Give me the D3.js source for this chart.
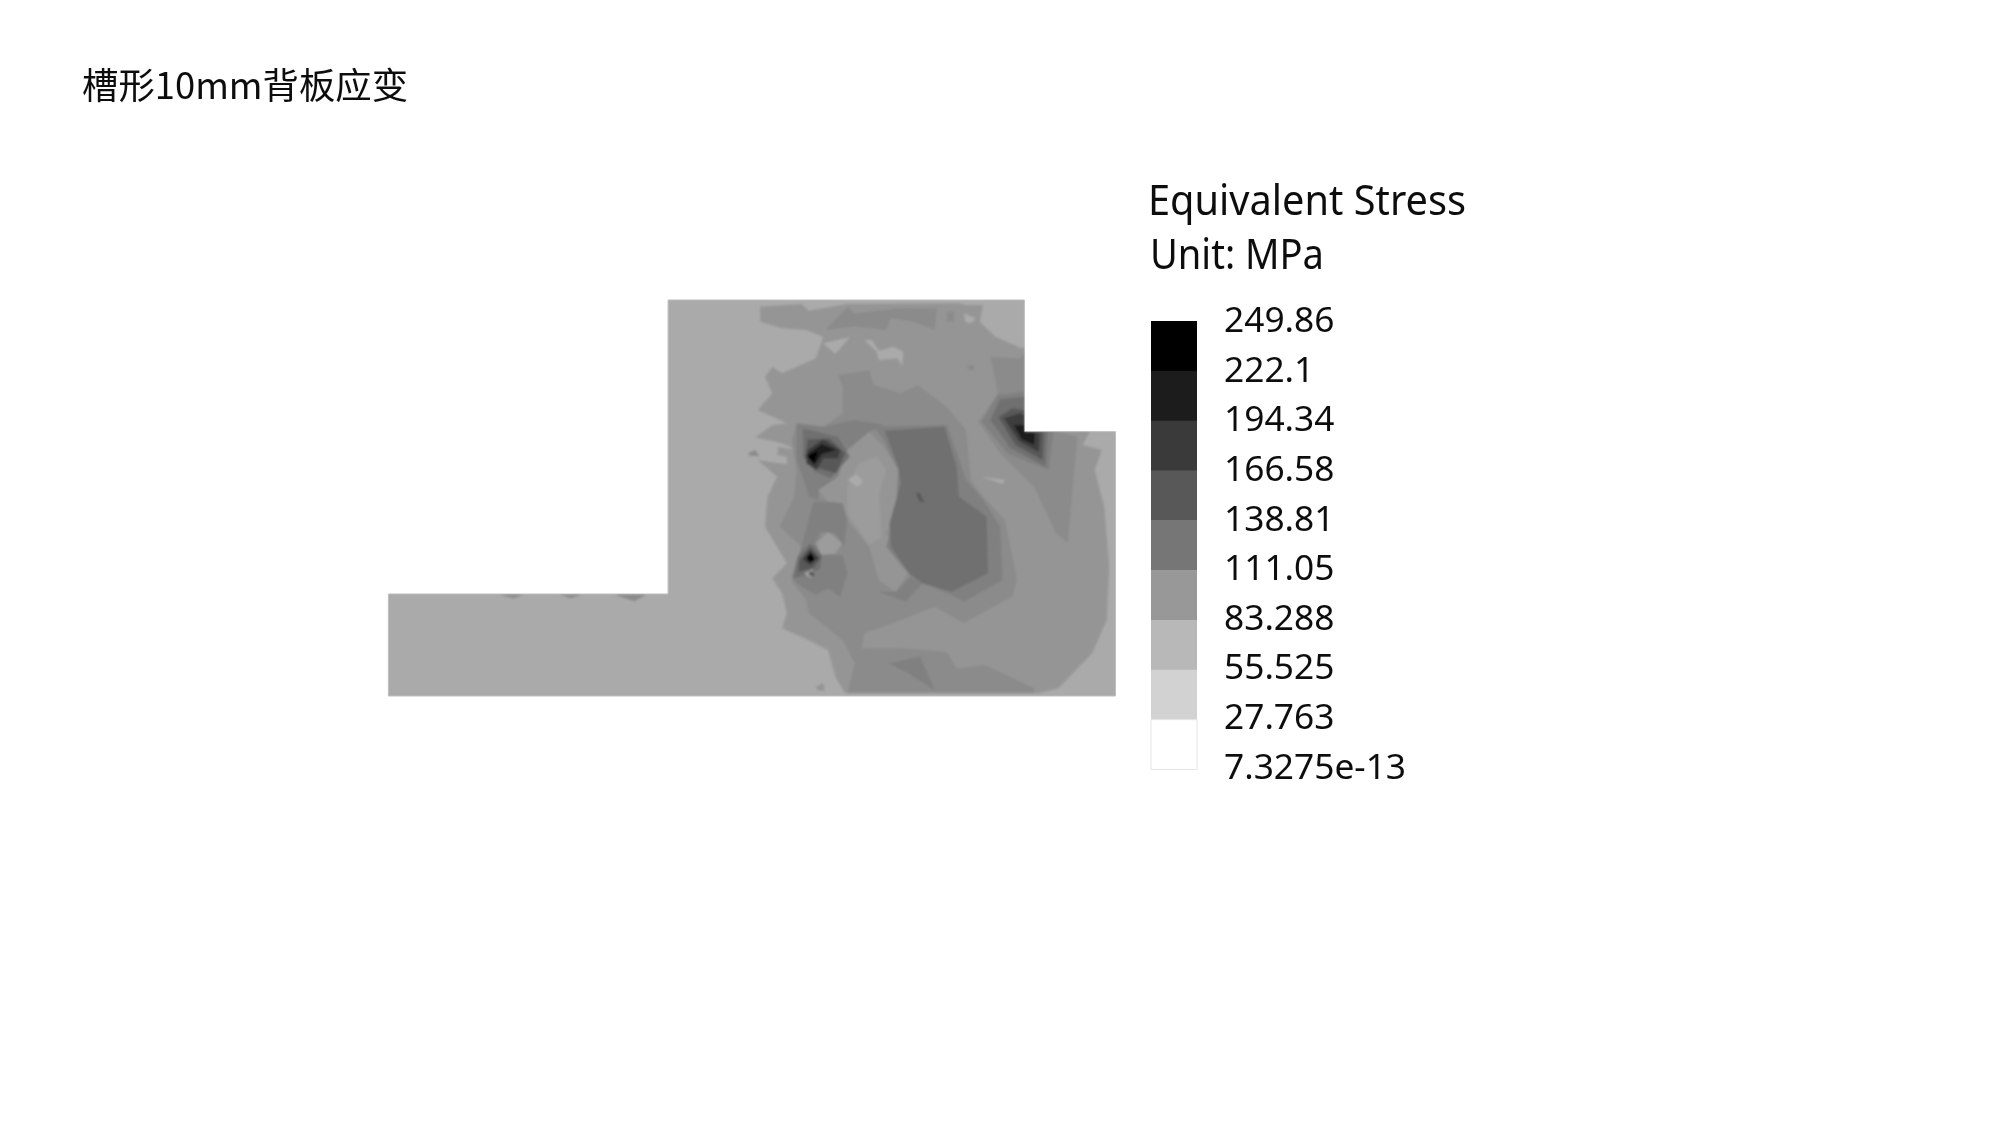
<!DOCTYPE html>
<html><head><meta charset="utf-8">
<script src="https://cdnjs.cloudflare.com/ajax/libs/d3/7.8.5/d3.min.js"></script>
<style>html,body{margin:0;background:#fff}svg{display:block}</style></head>
<body><svg id="c" width="2000" height="1125"></svg>
<script>
const chartTitle = "槽形10mm背板应变";
const legendTitle = ["Equivalent Stress", "Unit: MPa"];
const legendLabels = ["249.86","222.1","194.34","166.58","138.81","111.05","83.288","55.525","27.763","7.3275e-13"];
const legendColors = ["#000000","#1c1c1c","#3a3a3a","#585858","#767676","#989898","#b8b8b8","#d2d2d2","#ffffff"];
// plate contour bands, darkest = highest stress; band index 0 = plate base, 9 = pale interior band
const bandColors = ["#aaaaaa","#959595","#8b8b8b","#808080","#707070","#585858","#3c3c3c","#1e1e1e","#000000","#9c9c9c"];
const plateOutline = [[38,942],[615,942],[615,60],[1350,60],[1350,455],[1538,455],[1538,1248],[38,1248]];
// [band, outline] in model units, painted in order
const contours = [
 [1,[[805,80],[890,72],[905,92],[985,72],[1215,70],[1230,75],[1265,75],[1258,125],[1290,170],[1345,205],[1350,200],[1350,455],[1485,455],[1470,495],[1510,510],[1495,570],[1515,680],[1525,860],[1520,1020],[1490,1120],[1420,1225],[1380,1240],[980,1240],[960,1190],[945,1110],[890,1070],[850,1045],[860,1000],[850,940],[830,895],[860,850],[815,740],[820,650],[840,590],[800,540],[835,548],[860,552],[860,530],[840,525],[842,500],[880,510],[850,490],[795,472],[830,435],[860,430],[800,390],[830,340],[815,290],[830,260],[850,280],[920,235],[935,170],[900,150],[850,145],[805,125]]],
 [2,[[940,150],[985,80],[1000,100],[1090,85],[1170,85],[1165,150],[1120,125],[1075,115],[1065,150],[1000,140]]],
 [2,[[965,285],[1030,270],[1040,315],[1095,340],[1130,315],[1190,380],[1230,450],[1240,600],[1265,650],[1310,720],[1335,900],[1325,950],[1225,1030],[1165,980],[1080,1030],[1020,1060],[1015,1100],[1100,1105],[1190,1115],[1210,1165],[1270,1155],[1370,1225],[1370,1238],[985,1238],[1000,1150],[975,1080],[905,1000],[900,960],[870,905],[890,800],[845,740],[875,650],[880,570],[870,480],[880,430],[935,440],[975,400],[975,320]]],
 [2,[[1280,230],[1340,235],[1350,220],[1350,455],[1395,455],[1420,455],[1460,470],[1450,620],[1440,790],[1415,760],[1370,620],[1300,520],[1255,425],[1295,340]]],
 [2,[[1190,95],[1205,95],[1205,125],[1190,125]]],
 [2,[[1232,255],[1248,255],[1245,272],[1235,272]]],
 [1,[[985,500],[1030,455],[1060,500],[1090,570],[1085,690],[1065,760],[1110,880],[1085,935],[1050,900],[1030,800],[985,720],[975,670],[945,665],[925,630],[965,590]]],
 [1,[[1015,1105],[1020,1060],[1080,1030],[1165,985],[1225,1030],[1325,950],[1400,1000],[1380,1170],[1300,1170],[1210,1120],[1100,1100]]],
 [9,[[1010,550],[1045,530],[1065,570],[1050,640],[1055,770],[1030,795],[985,700],[985,620]]],
 [0,[[985,600],[1003,582],[1018,605],[1005,620]]],
 [9,[[920,790],[945,755],[975,790],[960,820],[930,825]]],
 [0,[[935,190],[990,172],[960,222]]],
 [0,[[1020,180],[1035,180],[1050,212],[1080,200],[1100,215],[1098,258],[1088,235],[1050,240],[1045,215]]],
 [0,[[1225,100],[1250,115],[1240,130],[1228,125]]],
 [0,[[1262,590],[1310,600],[1305,612]]],
 [3,[[880,430],[935,440],[1000,420],[1060,435],[1030,455],[985,510],[965,590],[925,630],[925,660],[905,650],[895,600],[880,540]]],
 [3,[[915,665],[945,665],[975,670],[985,720],[978,800],[960,760],[930,755],[918,790],[890,800],[905,720]]],
 [3,[[890,800],[920,790],[930,825],[975,825],[985,880],[970,950],[945,925],[920,945],[880,910],[870,890]]],
 [3,[[1070,1150],[1135,1130],[1165,1230],[1110,1180]]],
 [3,[[1085,935],[1115,890],[1140,910],[1105,965],[1050,935]]],
 [3,[[1040,440],[1190,435],[1230,600],[1265,660],[1300,740],[1305,900],[1225,965],[1200,945],[1140,910],[1110,880],[1065,800],[1085,690],[1090,570],[1060,480]]],
 [4,[[1062,452],[1185,440],[1210,560],[1215,650],[1272,710],[1275,880],[1200,935],[1140,910],[1115,885],[1075,800],[1072,730],[1095,610],[1090,560]]],
 [5,[[1126,640],[1134,640],[1144,668],[1134,664]]],
 [3,[[1262,425],[1295,345],[1350,335],[1350,455],[1410,455],[1400,570],[1315,520]]],
 [4,[[1280,420],[1300,358],[1350,350],[1350,455],[1398,455],[1394,560],[1322,505]]],
 [5,[[1297,412],[1325,385],[1350,390],[1350,455],[1390,455],[1388,540],[1332,495]]],
 [6,[[1308,415],[1340,400],[1350,405],[1350,455],[1382,458],[1380,515],[1340,485]]],
 [7,[[1328,435],[1350,435],[1350,456],[1372,458],[1370,495],[1345,478]]],
 [4,[[893,445],[965,470],[990,530],[950,595],[918,575],[893,530]]],
 [5,[[903,478],[948,476],[980,520],[962,580],[925,565],[897,535]]],
 [6,[[903,510],[935,478],[970,510],[966,535],[935,535],[922,570],[900,550]]],
 [7,[[900,525],[932,492],[962,510],[932,522],[917,555]]],
 [8,[[902,530],[925,512],[916,550]]],
 [4,[[882,830],[908,790],[933,825],[928,868],[900,885],[874,895]]],
 [5,[[886,840],[908,800],[930,835],[914,865],[884,875]]],
 [6,[[892,838],[908,810],[925,835],[908,856]]],
 [8,[[900,835],[909,818],[918,838],[908,848]]],
 [9,[[895,880],[912,868],[920,880],[908,895]]],
 [5,[[905,875],[917,875],[917,888],[908,888]]],
 [2,[[780,520],[795,510],[803,528],[785,528]]],
 [2,[[268,944],[316,944],[296,955]]],
 [2,[[392,944],[436,944],[415,955]]],
 [2,[[505,944],[570,944],[545,964]]],
 [1,[[920,1220],[935,1208],[938,1232],[925,1232]]]
];
const svg = d3.select("#c");
const x = d3.scaleLinear().domain([38,1538]).range([388.4,1115.5]);
const y = d3.scaleLinear().domain([60,1248]).range([300,696]);
const band = i => bandColors[i];
const path = d3.line().x(d=>x(d[0])).y(d=>y(d[1])).curve(d3.curveLinearClosed);

const defs = svg.append("defs");
defs.append("filter").attr("id","soft").append("feGaussianBlur").attr("stdDeviation",1.2);
defs.append("filter").attr("id","softT").append("feGaussianBlur").attr("stdDeviation",0.35);
defs.append("clipPath").attr("id","plate").append("path").attr("d",path(plateOutline));

svg.append("path").attr("d",path(plateOutline)).attr("fill",band(0))
  .attr("stroke","#bdbdbd").attr("stroke-width",1);
svg.append("g").attr("clip-path","url(#plate)").append("g").attr("filter","url(#soft)")
  .selectAll("path").data(contours).join("path")
  .attr("d",d=>path(d[1])).attr("fill",d=>band(d[0]));

const T = svg.append("g").attr("filter","url(#softT)").attr("fill","#111");
T.append("text").attr("x",82).attr("y",99).text(chartTitle)
  .attr("font-family","'Noto Sans CJK SC'").attr("font-size",36.4).attr("font-weight",400);
const sans = "'Noto Sans'";
T.selectAll(".lt").data(legendTitle).join("text").attr("class","lt")
  .attr("x",(d,i)=>i?1150:1148).attr("y",(d,i)=>i?269:215).text(d=>d)
  .attr("font-family",sans).attr("font-size",41)
  .attr("textLength",(d,i)=>i?174:318).attr("lengthAdjust","spacingAndGlyphs");

const ly = d3.scaleBand().domain(legendColors).range([321,769.5]);
svg.append("g").selectAll("rect").data(legendColors).join("rect")
  .attr("x",1151).attr("width",46).attr("y",d=>ly(d)).attr("height",ly.bandwidth()+.5).attr("fill",d=>d);
svg.append("rect").attr("x",1151).attr("y",ly(legendColors[8])).attr("width",46).attr("height",ly.bandwidth())
  .attr("fill","none").attr("stroke","#e6e6e6");
const ty = d3.scalePoint().domain(legendLabels).range([319.5,766]);
T.selectAll(".ll").data(legendLabels).join("text").attr("class","ll")
  .attr("x",1224).attr("y",d=>ty(d)).attr("dy","0.36em").text(d=>d)
  .attr("font-family",sans).attr("font-size",35.3);
</script></body></html>
